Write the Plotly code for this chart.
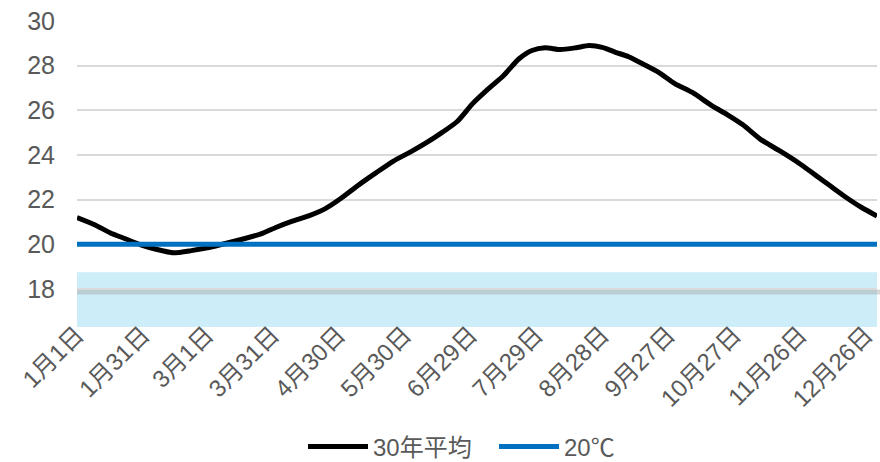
import plotly.graph_objects as go

# Day index (0 = Jan 1) and 30-year average temperature
days = [0, 8, 15, 22, 29, 36, 44, 52, 60, 68, 76, 84, 91, 98, 106, 113, 120, 128,
        136, 144, 152, 159, 166, 173, 180, 187, 194, 201, 207, 213, 220, 227, 233,
        239, 245, 251, 258, 265, 272, 280, 289, 296, 303, 311, 320, 329, 336, 343,
        350, 357, 364]
avg30 = [21.2, 20.88, 20.52, 20.25, 19.98, 19.78, 19.62, 19.72, 19.86, 20.05, 20.25,
         20.48, 20.78, 21.04, 21.3, 21.6, 22.05, 22.65, 23.2, 23.73, 24.15, 24.55,
         25.0, 25.5, 26.3, 26.95, 27.55, 28.3, 28.68, 28.8, 28.72, 28.8, 28.9, 28.82,
         28.6, 28.4, 28.05, 27.68, 27.2, 26.8, 26.2, 25.8, 25.35, 24.7, 24.17, 23.6,
         23.1, 22.6, 22.1, 21.65, 21.27]

ref_days = [0, 364]
ref_temp = [20, 20]

tick_days = [0, 30, 59, 89, 119, 149, 179, 209, 239, 269, 299, 329, 359]
tick_text = ["1月1日", "1月31日", "3月1日", "3月31日", "4月30日", "5月30日", "6月29日",
             "7月29日", "8月28日", "9月27日", "10月27日", "11月26日", "12月26日"]
y_ticks = [18, 20, 22, 24, 26, 28, 30]

band_low, band_high = 16.3, 18.75
axis_line_y = 17.87

FONT = "Arial, 'Liberation Sans', 'Noto Sans CJK JP', sans-serif"

fig = go.Figure()
fig.add_trace(go.Scatter(x=days, y=avg30, mode="lines", name="30年平均",
                         line=dict(color="#000000", width=5, shape="spline", smoothing=0.6)))
fig.add_trace(go.Scatter(x=ref_days, y=ref_temp, mode="lines", name="20℃",
                         line=dict(color="#0070C0", width=5)))

fig.add_shape(type="rect", xref="paper", yref="y", x0=0, x1=1, y0=band_low, y1=band_high,
              fillcolor="#CDEEF8", line=dict(width=0), layer="between")
fig.add_shape(type="line", xref="paper", yref="y", x0=0, x1=1.004, y0=axis_line_y, y1=axis_line_y,
              line=dict(color="rgba(160,160,160,0.42)", width=5), layer="between")

fig.update_layout(
    width=880, height=462,
    margin=dict(l=77, r=3, t=21, b=135, autoexpand=False),
    paper_bgcolor="white", plot_bgcolor="white",
    font=dict(family=FONT, color="#595959", size=24),
    showlegend=True,
    legend=dict(orientation="h", x=0.2825, xanchor="left", y=-0.392, yanchor="middle",
                font=dict(size=24, color="#595959"), itemwidth=60, traceorder="normal",
                entrywidth=116, entrywidthmode="pixels"),
)
fig.update_xaxes(range=[0, 364], tickvals=tick_days, ticktext=tick_text, tickangle=-45,
                 showgrid=False, zeroline=False, showline=False, ticks="", automargin=False,
                 tickfont=dict(size=24, color="#595959"), ticklabelstandoff=-12)
fig.update_yaxes(range=[band_low, 30.0], tickvals=y_ticks, showgrid=True, gridcolor="#D9D9D9",
                 gridwidth=1.5, zeroline=False, showline=False, ticks="", automargin=False,
                 tickfont=dict(size=25, color="#595959"), ticklabelstandoff=21)

fig.write_html("out.html")
